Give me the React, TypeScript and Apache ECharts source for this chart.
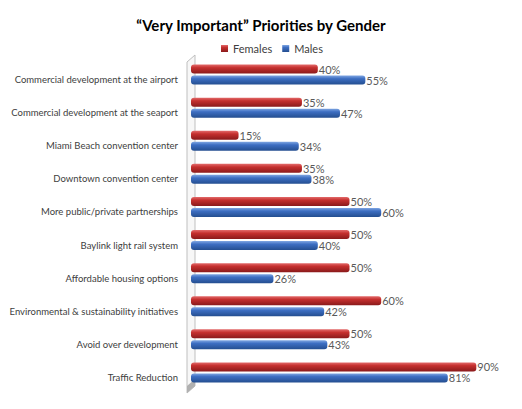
import React, { useEffect, useRef } from "react";
import * as echarts from "echarts";

const categories = [
  "Commercial development at the airport",
  "Commercial development at the seaport",
  "Miami Beach convention center",
  "Downtown convention center",
  "More public/private partnerships",
  "Baylink light rail system",
  "Affordable housing options",
  "Environmental & sustainability initiatives",
  "Avoid over development",
  "Traffic Reduction",
];
const females = [40, 35, 15, 35, 50, 50, 50, 60, 50, 90];
const males = [55, 47, 34, 38, 60, 40, 26, 42, 43, 81];

const FONT = "Lato, 'Liberation Sans', sans-serif";

const redGrad = new echarts.graphic.LinearGradient(0, 0, 0, 1, [
  { offset: 0, color: "#e36b6b" },
  { offset: 0.35, color: "#c5302f" },
  { offset: 1, color: "#8a1a1b" },
]);
const blueGrad = new echarts.graphic.LinearGradient(0, 0, 0, 1, [
  { offset: 0, color: "#7fa6e2" },
  { offset: 0.35, color: "#3d6ec2" },
  { offset: 1, color: "#244e90" },
]);

export default function App() {
  const ref = useRef<HTMLDivElement>(null);
  useEffect(() => {
    if (!ref.current) return;
    const chart = echarts.init(ref.current, undefined, { renderer: "svg" });
    const label = {
      show: true,
      position: "right" as const,
      distance: 1,
      formatter: "{c}%",
      color: "#595959",
      fontSize: 11,
      fontFamily: FONT,
    };
    chart.setOption({
      animation: false,
      backgroundColor: "#ffffff",
      title: {
        text: "\u201CVery Important\u201D Priorities by Gender",
        left: "center",
        top: 12,
        textStyle: { fontFamily: FONT, fontSize: 15, fontWeight: "bold", color: "#000000" },
      },
      legend: {
        top: 38,
        left: 216,
        itemWidth: 7,
        itemHeight: 7,
        itemGap: 10,
        icon: "rect",
        textStyle: { fontFamily: FONT, fontSize: 11, color: "#404040" },
        data: ["Females", "Males"],
      },
      graphic: [
        {
          type: "polygon",
          z: -1,
          shape: { points: [[187, 62], [195, 55], [195, 386], [187, 393]] },
          style: { fill: "#f7f7f7", stroke: "#bfbfbf", lineWidth: 1 },
        },
        {
          type: "polygon",
          z: -1,
          shape: { points: [[187, 386], [195, 379], [195, 386], [187, 393]] },
          style: { fill: "#b0b0b0" },
        },
      ],
      grid: { left: 191, right: 14, top: 58, bottom: 20 },
      xAxis: {
        type: "value",
        min: 0,
        max: 100,
        show: false,
        splitLine: { show: false },
      },
      yAxis: {
        type: "category",
        data: categories,
        inverse: true,
        axisLine: { show: false },
        axisTick: { show: false },
        axisLabel: {
          margin: 13,
          fontFamily: FONT,
          fontSize: 9.5,
          color: "#404040",
          verticalAlign: "top",
        },
      },
      series: [
        {
          name: "Females",
          type: "bar",
          data: females,
          barWidth: 9,
          barGap: "22%",
          itemStyle: { color: redGrad, borderRadius: 3 },
          label,
        },
        {
          name: "Males",
          type: "bar",
          data: males,
          barWidth: 9,
          itemStyle: { color: blueGrad, borderRadius: 3 },
          label,
        },
      ],
    });
    return () => chart.dispose();
  }, []);
  return <div ref={ref} style={{ width: 522, height: 409, position: "absolute", left: 0, top: 0 }} />;
}
